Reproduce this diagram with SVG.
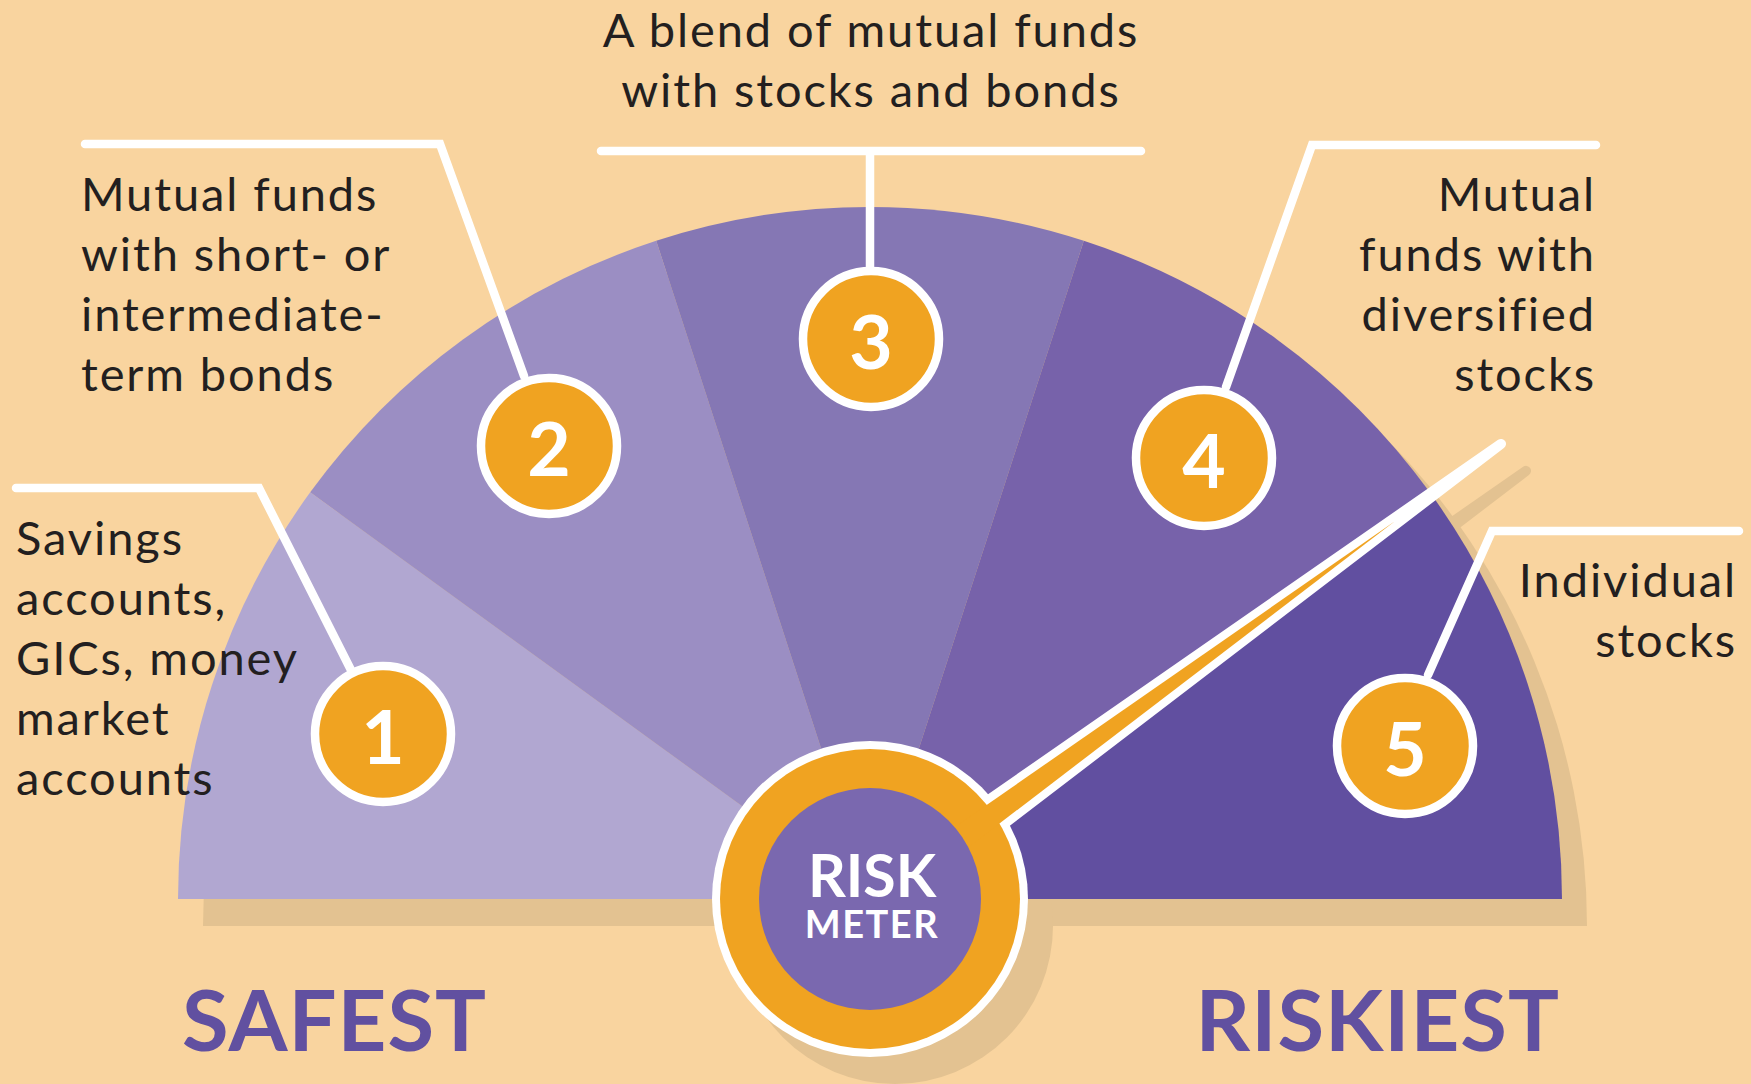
<svg xmlns="http://www.w3.org/2000/svg" width="1751" height="1084" viewBox="0 0 1751 1084">
<style>
.lbl{font-family:Lato,"Liberation Sans",sans-serif;font-size:47px;letter-spacing:1.9px;fill:#231F20}
.big{font-family:Lato,"Liberation Sans",sans-serif;font-weight:700;font-size:85px;fill:#6150A0}
.num{font-family:Lato,"Liberation Sans",sans-serif;font-weight:700;font-size:75px;fill:#FFFFFF;text-anchor:middle}
.leader{fill:none;stroke:#FFFFFF;stroke-width:8.5;stroke-linecap:round;stroke-linejoin:miter}
.badge{fill:#F0A321;stroke:#FFFFFF;stroke-width:8.5}
.shadow{fill:#E3C291}
</style>
<rect x="0" y="0" width="1751" height="1084" fill="#F9D49F"/>

<g id="shadows">
<path class="shadow" d="M203 926 A692 692 0 0 1 1587 926 Z"/>
<circle class="shadow" cx="895" cy="926" r="158"/>
<path class="shadow" d="M966.2 853.8 L1523.1 466.8 A5 5 0 0 1 1528.9 475 L990.1 886.9 Z"/>
</g>

<g id="meter">
<path d="M870 899 L178 899 A692 692 0 0 1 310.2 492.3 Z" fill="#B1A7D1"/>
<path d="M870 899 L310.2 492.3 A692 692 0 0 1 656.2 240.8 Z" fill="#9B8EC3"/>
<path d="M870 899 L656.2 240.8 A692 692 0 0 1 1083.8 240.8 Z" fill="#8577B4"/>
<path d="M870 899 L1083.8 240.8 A692 692 0 0 1 1429.8 492.3 Z" fill="#7762AA"/>
<path d="M870 899 L1429.8 492.3 A692 692 0 0 1 1562 899 Z" fill="#614FA0"/>
</g>

<g id="connectors">
<polyline class="leader" points="16,488 259,488 352,672"/>
<polyline class="leader" points="85,144 440,144 524,376"/>
<line class="leader" x1="601" y1="151" x2="1141" y2="151"/>
<line class="leader" x1="870" y1="151" x2="870" y2="270" style="stroke-linecap:butt"/>
<polyline class="leader" points="1596,145 1312,145 1226,387"/>
<polyline class="leader" points="1739,531 1492,531 1428,675"/>
</g>

<g id="badge1"><circle class="badge" cx="383" cy="734" r="68"/><text class="num" x="383" y="764">1</text></g>
<g id="badge2"><circle class="badge" cx="549" cy="446" r="68"/><text class="num" x="549" y="476">2</text></g>
<g id="badge3"><circle class="badge" cx="871" cy="339" r="68"/><text class="num" x="871" y="369">3</text></g>
<g id="badge4"><circle class="badge" cx="1204" cy="458" r="68"/><text class="num" x="1204" y="488">4</text></g>
<g id="badge5"><circle class="badge" cx="1405" cy="746" r="68"/><text class="num" x="1405" y="776">5</text></g>

<g id="gauge">
<circle cx="870" cy="899" r="158" fill="#FFFFFF"/>
<path d="M941.2 826.8 L1498.1 439.8 A5 5 0 0 1 1503.9 448 L965.1 859.9 Z" fill="#FFFFFF"/>
<circle cx="870" cy="899" r="150" fill="#F0A321"/>
<path d="M945.9 833.3 L1394.5 521.5 L960.4 853.4 Z" fill="#F0A321"/>
<circle cx="870" cy="899" r="111" fill="#7A68AF"/>
<text x="872" y="897" font-family="Lato,'Liberation Sans',sans-serif" font-weight="700" font-size="59" fill="#FFFFFF" text-anchor="middle">RISK</text>
<text x="872" y="938" font-family="Lato,'Liberation Sans',sans-serif" font-weight="700" font-size="38" letter-spacing="1.5" fill="#FFFFFF" text-anchor="middle">METER</text>
</g>

<g id="text1">
<text class="lbl" x="16" y="555">Savings</text>
<text class="lbl" x="16" y="615">accounts,</text>
<text class="lbl" x="16" y="675">GICs, money</text>
<text class="lbl" x="16" y="735">market</text>
<text class="lbl" x="16" y="795">accounts</text>
</g>
<g id="text2">
<text class="lbl" x="81" y="211">Mutual funds</text>
<text class="lbl" x="81" y="271">with short- or</text>
<text class="lbl" x="81" y="331">intermediate-</text>
<text class="lbl" x="81" y="391">term bonds</text>
</g>
<g id="text3">
<text class="lbl" x="871" y="47" text-anchor="middle">A blend of mutual funds</text>
<text class="lbl" x="871" y="107" text-anchor="middle">with stocks and bonds</text>
</g>
<g id="text4">
<text class="lbl" x="1596" y="211" text-anchor="end">Mutual</text>
<text class="lbl" x="1596" y="271" text-anchor="end">funds with</text>
<text class="lbl" x="1596" y="331" text-anchor="end">diversified</text>
<text class="lbl" x="1596" y="391" text-anchor="end">stocks</text>
</g>
<g id="text5">
<text class="lbl" x="1737" y="597" text-anchor="end">Individual</text>
<text class="lbl" x="1737" y="657" text-anchor="end">stocks</text>
</g>

<g id="ends">
<text class="big" x="182" y="1051" letter-spacing="1">SAFEST</text>
<text class="big" x="1560" y="1051" text-anchor="end" letter-spacing="1">RISKIEST</text>
</g>
</svg>
